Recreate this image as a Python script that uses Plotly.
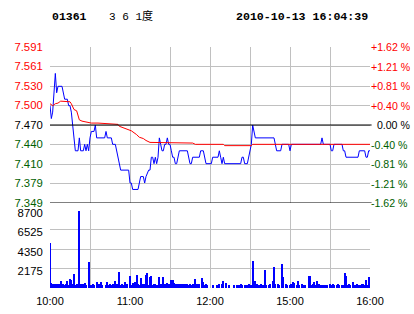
import numpy as np
import plotly.graph_objects as go

# ---------------- data ----------------
PREV_CLOSE = 7.47
PRICE_LABELS = ["7.591", "7.561", "7.530", "7.500", "7.470", "7.440", "7.410", "7.379", "7.349"]
PCT_LABELS = ["+1.62 %", "+1.21 %", "+0.81 %", "+0.40 %", "\u00a0\u00a00.00 %", "-0.40 %", "-0.81 %", "-1.21 %", "-1.62 %"]
VOL_TICKS = [2175, 4350, 6525, 8700]
VOL_LABELS = ["2175", "4350", "6525", "8700"]
TIME_LABELS = ["10:00", "", "11:00", "", "12:00", "", "15:00", "", "16:00"]

# price line (minute index from 10:00, price)
PRICE_T = [0, 1, 2, 3, 4, 5, 6, 9, 10, 11, 13, 14, 15, 16, 17, 18, 19, 21, 22, 23, 25, 26, 27, 28, 29,
           30, 31, 33, 34, 35, 41, 42, 43, 46, 47, 49, 50, 51, 52, 53, 59, 60, 61, 62, 66, 67, 68, 70,
           71, 72, 74, 75, 76, 77, 78, 79, 80, 81, 82, 83, 84, 85, 86, 87, 88, 89, 90, 91, 92, 93, 94,
           95, 96, 97, 103, 104, 105, 106, 107, 112, 113, 115, 116, 117, 121, 122, 126, 127, 128, 129,
           130, 131, 143, 144, 145, 146, 148, 149, 150, 151, 152, 153, 154, 168, 169, 170, 173, 174,
           179, 180, 181, 203, 204, 205, 210, 211, 212, 213, 219, 220, 221, 222, 231, 232, 236, 237,
           238, 239, 240]
PRICE_P = [7.50, 7.48, 7.49, 7.53, 7.55, 7.52, 7.53, 7.53, 7.52, 7.51, 7.51, 7.50, 7.50, 7.49, 7.47,
           7.45, 7.43, 7.43, 7.45, 7.43, 7.43, 7.44, 7.43, 7.44, 7.43,
           7.45, 7.46, 7.46, 7.47, 7.45, 7.45, 7.46, 7.45, 7.45, 7.44, 7.44, 7.43, 7.42, 7.41, 7.40,
           7.40, 7.38, 7.38, 7.37, 7.37, 7.38, 7.39, 7.39,
           7.38, 7.39, 7.40, 7.40, 7.42, 7.42, 7.41, 7.42, 7.41, 7.42, 7.45, 7.44, 7.43, 7.43, 7.44,
           7.44, 7.45, 7.44, 7.44, 7.43, 7.42, 7.42, 7.41,
           7.41, 7.42, 7.43, 7.43, 7.42, 7.41, 7.41, 7.42, 7.42, 7.43, 7.43, 7.42, 7.41, 7.41, 7.42,
           7.42, 7.43, 7.42, 7.41,
           7.42, 7.41, 7.41, 7.42, 7.42, 7.41, 7.41, 7.42, 7.43, 7.44, 7.47, 7.46, 7.45, 7.45, 7.44,
           7.43, 7.43, 7.44,
           7.44, 7.43, 7.44, 7.44, 7.45, 7.44, 7.44, 7.43, 7.43, 7.44, 7.44, 7.43, 7.43, 7.42, 7.42,
           7.43, 7.43, 7.42,
           7.42, 7.43, 7.43]

# average price line
AVG_T = [0, 2, 4, 6, 8, 12, 15, 16, 17, 18, 20, 21, 22, 24, 29, 31, 36, 45, 51, 52, 55, 58, 61, 65,
         67, 70, 72, 75, 107, 109, 130, 131, 151, 152, 240]
AVG_P = [7.503, 7.500, 7.503, 7.504, 7.507, 7.507, 7.506, 7.503, 7.497, 7.494, 7.492, 7.485, 7.478,
         7.476, 7.474, 7.473, 7.473, 7.472, 7.471, 7.468, 7.466, 7.464, 7.461, 7.455,
         7.451, 7.449, 7.446, 7.443, 7.442, 7.440, 7.440, 7.438, 7.438, 7.440, 7.440]

# volume per minute
VOL_T = [0, 1, 2, 3, 4, 5, 6, 7, 8, 9, 10, 11, 12, 13, 14, 15, 16, 17, 18, 19, 20, 21, 22, 23, 24, 25,
         26, 27, 29, 31, 32, 33, 35, 36, 37, 38, 39, 42, 43, 44, 45, 46, 47, 49, 50, 52, 53, 54, 55,
         56, 57, 58, 60, 61, 62, 63, 64, 65, 66, 67, 68, 69, 70, 71, 72, 73, 74, 75, 76, 77, 78, 79,
         80, 82, 83, 84, 85, 86, 87, 88, 89, 91, 92, 93, 94, 95, 96, 97, 98, 99, 100, 101, 102, 103,
         104, 105, 106, 107, 109, 110, 111, 112, 114, 115, 116, 117, 118,
         122, 125, 127, 129, 130, 132, 134, 138, 140, 142, 143, 144, 146, 148, 149,
         151, 152, 154, 155, 157, 158, 160, 161, 162, 164, 165, 167, 168, 169, 171, 172, 174, 175,
         177, 178, 180, 181, 182, 183, 185, 186, 187, 189, 190, 191, 194, 195, 196, 197, 198, 199,
         200, 201, 202, 203, 205, 206, 207, 208, 210, 211, 212, 213, 215, 216, 217, 219, 220, 221,
         222, 223, 224, 225, 227, 228, 229, 230, 232, 233, 234, 235, 236, 237, 238, 239, 240]
VOL_V = [5000, 600, 500, 300, 500, 400, 300, 500, 800, 400, 500, 300, 400, 800, 300, 1000, 900, 400,
         1600, 300, 400, 300, 8600, 500, 300, 400,
         600, 300, 2900, 300, 400, 300, 700, 300, 500, 700, 300, 300, 700, 300, 400, 300, 500, 800,
         400, 1800, 300, 400, 300,
         700, 300, 500, 1300, 300, 600, 400, 700, 1450, 400, 300, 1100, 300, 500, 400, 1400, 1700,
         300, 1200, 1300, 300, 400, 500,
         300, 1250, 400, 500, 1200, 400, 300, 600, 500, 900, 850, 600, 400, 500, 300, 400, 500, 300,
         400, 500, 300, 400,
         300, 400, 300, 400, 1000, 400, 300, 500, 1100, 700, 300, 400, 300,
         300, 300, 400, 500, 800, 600, 300, 300, 300, 300, 400, 300, 300, 300, 500,
         300, 3000, 800, 500, 300, 400, 300, 2000, 300, 300, 400, 800, 2300, 400, 400, 300, 2700,
         1200,
         400, 300, 300, 400, 700, 600, 300, 800, 300, 400, 300, 300, 1300, 1300, 300, 500, 700, 300,
         800, 400, 500, 300, 300, 300, 300, 300, 400, 300, 500, 300, 300, 400, 300, 300, 300, 1700,
         1300, 300, 400, 300, 700, 300, 300, 400, 300, 300, 400, 500, 300, 900, 300, 1200, 500]

# ---------------- styling ----------------
RED = "#ff0000"
GREEN = "#006000"
BLUE = "#0000ff"
GRID = "#c0c0c0"
FONT = "Liberation Sans"
CLEAR = "rgba(0,0,0,0)"

ymin, ymax = 7.349, 7.591
vmax = 8700
tick_pos = [round(v, 6) for v in np.linspace(ymin, ymax, 9)[::-1]]


def color_of(i):
    return RED if i < 4 else ("#000000" if i == 4 else GREEN)


left_text = [f'<span style="color:{color_of(i)}">{t}</span>' for i, t in enumerate(PRICE_LABELS)]

fig = go.Figure()
fig.add_trace(go.Bar(x=VOL_T, y=VOL_V, xaxis="x2", yaxis="y2", width=0.75,
                     marker=dict(color=BLUE, line=dict(width=0)), showlegend=False))
fig.add_trace(go.Scatter(x=PRICE_T, y=PRICE_P, mode="lines", line=dict(color=BLUE, width=1),
                         xaxis="x", yaxis="y", showlegend=False))
fig.add_trace(go.Scatter(x=AVG_T, y=AVG_P, mode="lines", line=dict(color=RED, width=1),
                         xaxis="x", yaxis="y", showlegend=False))

PLOT_H = 241
main_bottom = (288 - 203) / PLOT_H
vol_top = (288 - 210) / PLOT_H
# volume labels sit ~3 px under their grid lines in the reference
vol_px = vmax / 78.0
vol_label_pos = [v - 3 * vol_px for v in VOL_TICKS]

xcommon = dict(range=[0, 240], autorange=False, showgrid=True, gridcolor=GRID, gridwidth=1,
               tickvals=[0, 30, 60, 90, 120, 150, 180, 210, 240], zeroline=False,
               showline=False, fixedrange=True, automargin=False)

fig.update_layout(
    width=414, height=314,
    margin=dict(l=50, r=44, t=47, b=26, pad=0),
    paper_bgcolor="white", plot_bgcolor="white",
    bargap=0,
    font=dict(family=FONT, size=12, color="black"),
    xaxis=dict(domain=[0, 1], anchor="y", showticklabels=False, **xcommon),
    xaxis2=dict(domain=[0, 1], anchor="y2", showticklabels=True, ticktext=TIME_LABELS,
                tickfont=dict(family=FONT, size=11, color="black"),
                ticks="outside", ticklen=3, tickcolor=CLEAR, **xcommon),
    yaxis=dict(domain=[main_bottom, 1], anchor="x", range=[ymin, ymax], autorange=False,
               tickvals=tick_pos, ticktext=left_text, showgrid=True, gridcolor=GRID,
               zeroline=False, showline=False, ticks="outside", ticklen=4,
               tickcolor=CLEAR, tickfont=dict(family=FONT, size=11.3), fixedrange=True,
               automargin=False, ticklabeloverflow="allow"),
    yaxis2=dict(domain=[0, vol_top], anchor="x2", range=[0, vmax], autorange=False,
                tickvals=vol_label_pos, ticktext=VOL_LABELS, showgrid=False,
                zeroline=False, showline=False, ticks="outside", ticklen=4, tickcolor=CLEAR,
                tickfont=dict(family=FONT, size=11.3), fixedrange=True, automargin=False,
                ticklabeloverflow="allow",
                minor=dict(tickvals=VOL_TICKS, showgrid=True, gridcolor=GRID, gridwidth=1,
                           ticks="")),
)

# black reference lines (previous close and bottom of price panel)
for yv in [PREV_CLOSE, ymin]:
    fig.add_shape(type="line", xref="paper", yref="y", x0=0, x1=1.005, y0=yv, y1=yv,
                  line=dict(color="black", width=1))

# right-hand percentage scale
for i, (yv, t) in enumerate(zip(tick_pos, PCT_LABELS)):
    fig.add_annotation(text=t, xref="paper", yref="y", x=1, y=yv, xshift=0,
                       xanchor="left", yanchor="middle", showarrow=False, borderpad=0,
                       font=dict(family=FONT, size=10.6, color=color_of(i)))

# header
hy = 1 + (47 - 16) / PLOT_H
fig.add_annotation(text="<b>01361</b>", xref="paper", yref="paper", x=0, y=hy,
                   xanchor="left", yanchor="middle", showarrow=False,
                   font=dict(family="Liberation Mono", size=11.5, color="black"))
fig.add_annotation(text="3 6 1度", xref="paper", yref="paper", x=(107 - 50) / 320, y=hy,
                   xanchor="left", yanchor="middle", showarrow=False,
                   font=dict(family="Liberation Mono, Noto Sans CJK SC", size=11, color="black"))
fig.add_annotation(text="<b>2010-10-13 16:04:39</b>", xref="paper", yref="paper", x=1, y=hy,
                   xanchor="right", yanchor="middle", showarrow=False,
                   font=dict(family="Liberation Mono", size=11.6, color="black"))

fig.write_html("out.html")
